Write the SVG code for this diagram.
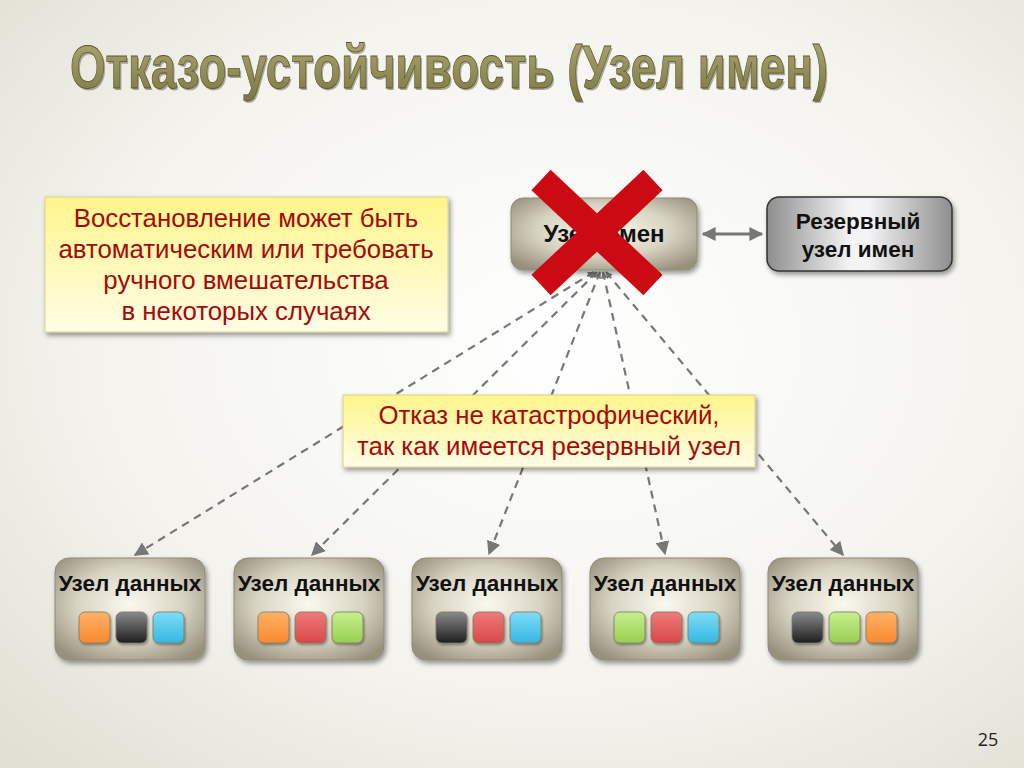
<svg xmlns="http://www.w3.org/2000/svg" width="1024" height="768" viewBox="0 0 1024 768">
<defs>
<radialGradient id="bg" cx="0.55" cy="0.45" r="0.75">
<stop offset="0" stop-color="#ffffff"/>
<stop offset="0.6" stop-color="#f4f3ee"/>
<stop offset="1" stop-color="#e2e0d4"/>
</radialGradient>
<radialGradient id="tan" cx="0.5" cy="0.45" r="0.65">
<stop offset="0" stop-color="#fbf9f0"/>
<stop offset="0.55" stop-color="#d8d4c2"/>
<stop offset="1" stop-color="#97917c"/>
</radialGradient>
<linearGradient id="silver" x1="0" y1="0" x2="1" y2="0">
<stop offset="0" stop-color="#8e8e8e"/>
<stop offset="0.45" stop-color="#f4f4f4"/>
<stop offset="0.55" stop-color="#f4f4f4"/>
<stop offset="1" stop-color="#8e8e8e"/>
</linearGradient>
<linearGradient id="yellow" x1="0" y1="0" x2="0" y2="1">
<stop offset="0" stop-color="#fff58a"/>
<stop offset="1" stop-color="#fffde6"/>
</linearGradient>
<linearGradient id="title" x1="0" y1="0" x2="0" y2="1">
<stop offset="0" stop-color="#b0ac74"/>
<stop offset="1" stop-color="#7c7742"/>
</linearGradient>
<linearGradient id="gOrange" x1="0" y1="0" x2="0" y2="1"><stop offset="0" stop-color="#ffb066"/><stop offset="1" stop-color="#f98a2c"/></linearGradient>
<linearGradient id="gBlack" x1="0" y1="0" x2="0" y2="1"><stop offset="0" stop-color="#8a8a8a"/><stop offset="1" stop-color="#1e1e1e"/></linearGradient>
<linearGradient id="gBlue" x1="0" y1="0" x2="0" y2="1"><stop offset="0" stop-color="#7fdcf7"/><stop offset="1" stop-color="#35b8e2"/></linearGradient>
<linearGradient id="gRed" x1="0" y1="0" x2="0" y2="1"><stop offset="0" stop-color="#f07a7a"/><stop offset="1" stop-color="#d84848"/></linearGradient>
<linearGradient id="gGreen" x1="0" y1="0" x2="0" y2="1"><stop offset="0" stop-color="#c6ef8e"/><stop offset="1" stop-color="#98cf50"/></linearGradient>
<filter id="sh" x="-10%" y="-10%" width="125%" height="130%">
<feDropShadow dx="2" dy="3" stdDeviation="2.5" flood-color="#000" flood-opacity="0.4"/>
</filter>
<filter id="sh2" x="-10%" y="-10%" width="130%" height="140%">
<feDropShadow dx="1" dy="1.5" stdDeviation="1" flood-color="#000" flood-opacity="0.4"/>
</filter>
<marker id="ah" viewBox="0 0 10 10" refX="9" refY="5" markerWidth="7" markerHeight="7" orient="auto-start-reverse" markerUnits="userSpaceOnUse">
<path d="M0,0 L10,5 L0,10 z" fill="#777"/>
</marker>
<marker id="ah2" viewBox="0 0 10 10" refX="9" refY="5" markerWidth="14" markerHeight="14" orient="auto-start-reverse" markerUnits="userSpaceOnUse">
<path d="M0,0 L10,5 L0,10 z" fill="#777"/>
</marker>
</defs>
<style>
.dn{fill:url(#tan);stroke:#8e8a78;stroke-width:1;filter:url(#sh)}
.dt{font-family:"Liberation Sans",Arial,sans-serif;font-weight:bold;font-size:22.5px;fill:#111;text-anchor:middle}
.sq{stroke:#7a7a6a;stroke-width:0.8;filter:url(#sh2)}
.note{fill:url(#yellow);stroke:#d8d090;stroke-width:1;filter:url(#sh)}
.nt{font-family:"Liberation Sans",Arial,sans-serif;font-size:25.8px;fill:#a50a0a;text-anchor:middle}
.cn{fill:none;stroke:#777;stroke-width:2.2;stroke-dasharray:8 6}
.tt{font-family:"Liberation Sans",Arial,sans-serif;font-weight:bold;font-size:48px}
</style>
<rect width="1024" height="768" fill="url(#bg)"/>
<g id="title-text">
<text transform="translate(71.5,90) scale(1,1.29)" x="0" y="0" class="tt" textLength="758" lengthAdjust="spacingAndGlyphs" fill="#3a3820" opacity="0.4">Отказо-устойчивость (Узел имен)</text>
<text transform="translate(70,88) scale(1,1.29)" x="0" y="0" class="tt" textLength="758" lengthAdjust="spacingAndGlyphs" fill="url(#title)" stroke="#5a5630" stroke-width="0.6">Отказо-устойчивость (Узел имен)</text>
</g>

<g id="connectors">
<line class="cn" x1="594" y1="272" x2="135" y2="555" marker-start="url(#ah)" marker-end="url(#ah2)"/>
<line class="cn" x1="597" y1="272" x2="312" y2="555" marker-start="url(#ah)" marker-end="url(#ah2)"/>
<line class="cn" x1="600" y1="272" x2="489" y2="554" marker-start="url(#ah)" marker-end="url(#ah2)"/>
<line class="cn" x1="603" y1="272" x2="665" y2="554" marker-start="url(#ah)" marker-end="url(#ah2)"/>
<line class="cn" x1="606" y1="272" x2="843" y2="555" marker-start="url(#ah)" marker-end="url(#ah2)"/>
<line x1="703" y1="234" x2="762" y2="234" stroke="#777" stroke-width="3" marker-start="url(#ah2)" marker-end="url(#ah2)"/>
</g>

<g id="namenode">
<rect x="511" y="198" width="186" height="72" rx="12" class="dn"/>
<text x="604" y="242" class="dt" style="font-size:24px">Узел имен</text>
</g>
<g id="backup">
<rect x="767" y="197" width="185" height="74" rx="12" fill="url(#silver)" stroke="#333" stroke-width="1.5" filter="url(#sh)"/>
<text x="858" y="229" class="dt">Резервный</text>
<text x="858" y="257" class="dt">узел имен</text>
</g>

<g id="fail-x">
<line x1="541" y1="180" x2="653" y2="285" stroke="#cc0a14" stroke-width="28"/>
<line x1="653" y1="180" x2="541" y2="285" stroke="#cc0a14" stroke-width="28"/>
</g>

<g id="note1">
<rect x="45" y="197" width="403" height="135" class="note"/>
<text x="246" y="227" class="nt">Восстановление может быть</text>
<text x="246" y="258" class="nt">автоматическим или требовать</text>
<text x="246" y="289" class="nt">ручного вмешательства</text>
<text x="246" y="320" class="nt">в некоторых случаях</text>
</g>
<g id="note2">
<rect x="343" y="395" width="412" height="72" class="note"/>
<text x="549" y="424" class="nt">Отказ не катастрофический,</text>
<text x="549" y="455" class="nt">так как имеется резервный узел</text>
</g>

<g id="dn1">
<rect x="55" y="558" width="150" height="102" rx="14" class="dn"/>
<text x="130" y="591" class="dt">Узел данных</text>
<rect x="79" y="612" width="31" height="31" rx="6" class="sq" fill="url(#gOrange)"/>
<rect x="116" y="612" width="31" height="31" rx="6" class="sq" fill="url(#gBlack)"/>
<rect x="153" y="612" width="31" height="31" rx="6" class="sq" fill="url(#gBlue)"/>
</g>
<g id="dn2">
<rect x="234" y="558" width="150" height="102" rx="14" class="dn"/>
<text x="309" y="591" class="dt">Узел данных</text>
<rect x="258" y="612" width="31" height="31" rx="6" class="sq" fill="url(#gOrange)"/>
<rect x="295" y="612" width="31" height="31" rx="6" class="sq" fill="url(#gRed)"/>
<rect x="332" y="612" width="31" height="31" rx="6" class="sq" fill="url(#gGreen)"/>
</g>
<g id="dn3">
<rect x="412" y="558" width="150" height="102" rx="14" class="dn"/>
<text x="487" y="591" class="dt">Узел данных</text>
<rect x="436" y="612" width="31" height="31" rx="6" class="sq" fill="url(#gBlack)"/>
<rect x="473" y="612" width="31" height="31" rx="6" class="sq" fill="url(#gRed)"/>
<rect x="510" y="612" width="31" height="31" rx="6" class="sq" fill="url(#gBlue)"/>
</g>
<g id="dn4">
<rect x="590" y="558" width="150" height="102" rx="14" class="dn"/>
<text x="665" y="591" class="dt">Узел данных</text>
<rect x="614" y="612" width="31" height="31" rx="6" class="sq" fill="url(#gGreen)"/>
<rect x="651" y="612" width="31" height="31" rx="6" class="sq" fill="url(#gRed)"/>
<rect x="688" y="612" width="31" height="31" rx="6" class="sq" fill="url(#gBlue)"/>
</g>
<g id="dn5">
<rect x="768" y="558" width="150" height="102" rx="14" class="dn"/>
<text x="843" y="591" class="dt">Узел данных</text>
<rect x="792" y="612" width="31" height="31" rx="6" class="sq" fill="url(#gBlack)"/>
<rect x="829" y="612" width="31" height="31" rx="6" class="sq" fill="url(#gGreen)"/>
<rect x="866" y="612" width="31" height="31" rx="6" class="sq" fill="url(#gOrange)"/>
</g>

<text x="988" y="746" font-family="'Open Sans','Liberation Sans',sans-serif" font-size="18" fill="#222" text-anchor="middle">25</text>
</svg>
